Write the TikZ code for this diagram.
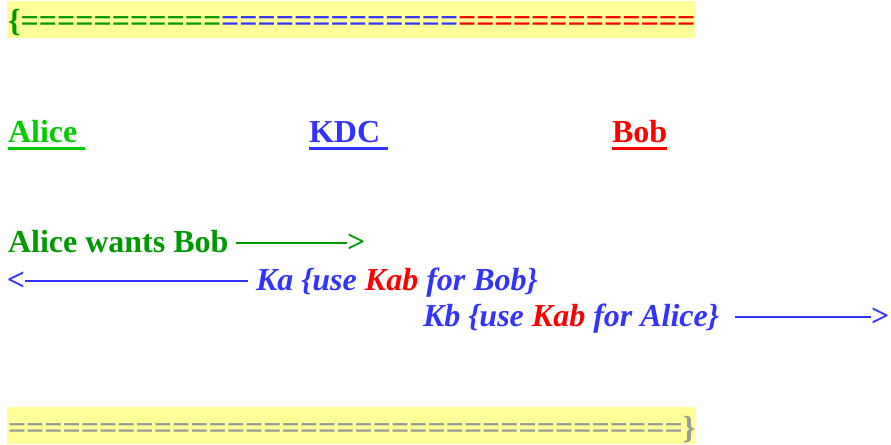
\documentclass[tikz,border=0pt]{standalone}
\usepackage{fontspec}
\setmainfont{Liberation Serif}
\usetikzlibrary{calc}
\definecolor{hlyellow}{HTML}{FFFF99}
\definecolor{dgreen}{HTML}{009900}
\definecolor{lgreen}{HTML}{00CC00}
\definecolor{kblue}{HTML}{3333FF}
\definecolor{kred}{HTML}{FF0000}
\definecolor{kgray}{HTML}{999999}
% a word space that survives at the end of a node
\newcommand{\tsp}{\kern0.25em}
\tikzset{
  txt/.style={anchor=base west, inner sep=0pt, outer sep=0pt,
    font=\fontsize{24pt}{28pt}\selectfont\bfseries},
  itxt/.style={txt, font=\fontsize{24pt}{28pt}\selectfont\bfseries\itshape},
  band/.style={fill=hlyellow, draw=none},
  ul/.style={line width=2.3pt},
  msg/.style={line width=1.5pt},
}
\begin{document}
\begin{tikzpicture}[x=0.75pt,y=-0.75pt]
\useasboundingbox (0,0) rectangle (891,444);

% highlighted header and footer bands
\fill[band] (7,1) rectangle (695,38);
\fill[band] (7,407) rectangle (695,444);

\node[txt] (hdr) at (8,31)
  {{\color{dgreen}\{===========}{\color{kblue}=============}{\color{kred}=============}};
\node[txt, text=kgray] (ftr) at (8,438)
  {=====================================\}};

% principals
\node[txt, text=lgreen] (alice) at (8,142) {Alice\tsp};
\node[txt, text=kblue] (kdc) at (309,142) {KDC\tsp};
\node[txt, text=kred] (bob) at (612,142) {Bob};
\draw[ul, lgreen] ([yshift=-4.6pt]alice.base west) -- ([yshift=-4.6pt]alice.base east);
\draw[ul, kblue] ([yshift=-4.6pt]kdc.base west) -- ([yshift=-4.6pt]kdc.base east);
\draw[ul, kred] ([yshift=-4.6pt]bob.base west) -- ([yshift=-4.6pt]bob.base east);

% message 1: Alice -> KDC
\node[txt, text=dgreen] (req) at (8,252) {Alice wants Bob\tsp};
\node[txt, text=dgreen] (gt1) at (347,252) {>};
\draw[msg, dgreen] (req.east |- gt1.west) -- (gt1.west);

% message 2: KDC -> Alice
\node[txt, text=kblue] (lt2) at (7,290) {<};
\node[itxt, text=kblue] (ka) at (248,290) {\tsp Ka \{use {\color{kred}Kab} for Bob\}};
\draw[msg, kblue] (lt2.east) -- (ka.west |- lt2.east);

% message 3: KDC -> Bob
\node[itxt, text=kblue] (kb) at (423,326) {Kb \{use {\color{kred}Kab} for Alice\}\tsp\tsp};
\node[txt, text=kblue] (gt3) at (871,326) {>};
\draw[msg, kblue] (kb.east |- gt3.west) -- (gt3.west);
\end{tikzpicture}
\end{document}
